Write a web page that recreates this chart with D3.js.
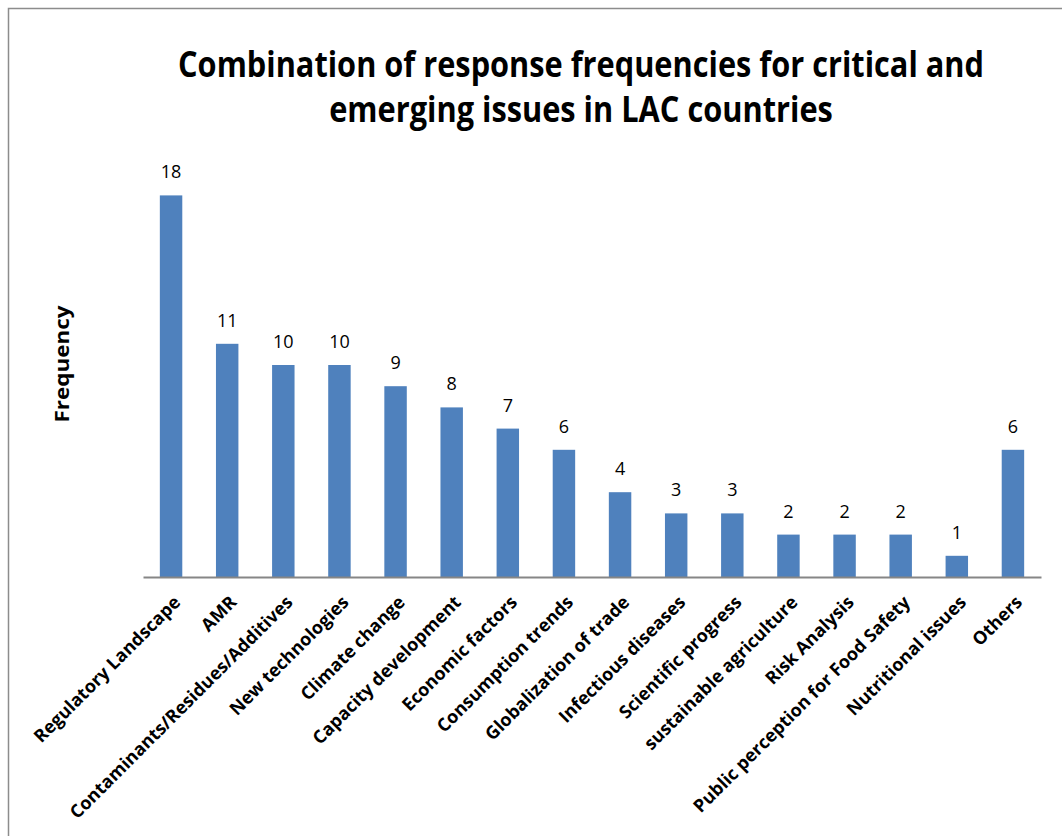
<!DOCTYPE html>
<html>
<head>
<meta charset="utf-8">
<script src="https://cdn.jsdelivr.net/npm/d3@7"></script>
<style>
  body { margin: 0; background: #fff; }
  text { font-family: "Open Sans", sans-serif; fill: #000; }
</style>
</head>
<body>
<div id="chart"></div>
<script>
// data
var categories = ["Regulatory Landscape", "AMR", "Contaminants/Residues/Additives", "New technologies",
  "Climate change", "Capacity development", "Economic factors", "Consumption trends",
  "Globalization of trade", "Infectious diseases", "Scientific progress", "sustainable agriculture",
  "Risk Analysis", "Public perception for Food Safety", "Nutritional issues", "Others"];
var frequency = [18, 11, 10, 10, 9, 8, 7, 6, 4, 3, 3, 2, 2, 2, 1, 6];
var titleLines = ["Combination of response frequencies for critical and", "emerging issues in LAC countries"];

var width = 1062, height = 836;
var margin = {left: 143, right: 21, top: 153, bottom: 259};

var svg = d3.select("#chart").append("svg")
    .attr("width", width)
    .attr("height", height);

// outer frame
svg.append("rect")
    .attr("x", 8.5).attr("y", 8.5)
    .attr("width", width + 20).attr("height", height + 20)
    .attr("fill", "none")
    .attr("stroke", "#8c8c8c")
    .attr("stroke-width", 1.5);

var x = d3.scaleBand()
    .domain(categories)
    .range([margin.left, width - margin.right])
    .paddingInner(0.6)
    .paddingOuter(0.3);

var y = d3.scaleLinear()
    .domain([0, 20])
    .range([height - margin.bottom, margin.top]);

// title, squeezed horizontally to look like the narrow original font
svg.append("g").selectAll("text")
    .data(titleLines)
    .enter().append("text")
    .attr("text-anchor", "middle")
    .attr("font-size", 36)
    .attr("font-weight", "bold")
    .text(function(d) { return d; })
    .attr("transform", function(d, i) {
      var w = this.getComputedTextLength();
      var k = (i == 0 ? 806 : 504) / w;
      return "translate(581," + (77 + i * 45) + ") scale(" + k + ",1)";
    });

// y label
svg.append("text")
    .attr("text-anchor", "middle")
    .attr("font-size", 20)
    .attr("font-weight", "bold")
    .text("Frequency")
    .attr("transform", function() {
      var k = 117 / this.getComputedTextLength();
      return "translate(69,364) rotate(-90) scale(" + k + ",1)";
    });

svg.append("g").selectAll("rect")
    .data(frequency)
    .enter().append("rect")
    .attr("x", function(d, i) { return x(categories[i]); })
    .attr("y", function(d) { return y(d); })
    .attr("width", x.bandwidth())
    .attr("height", function(d) { return y(0) - y(d); })
    .attr("fill", "#4f81bd");

svg.append("g").selectAll("text")
    .data(frequency)
    .enter().append("text")
    .attr("x", function(d, i) { return x(categories[i]) + x.bandwidth() / 2; })
    .attr("y", function(d) { return y(d) - 17; })
    .attr("text-anchor", "middle")
    .attr("font-size", 18)
    .text(function(d) { return d; });

// x axis
var xAxis = svg.append("g")
    .attr("transform", "translate(0," + y(0) + ")")
    .call(d3.axisBottom(x).tickSize(0).tickPadding(0));
xAxis.select(".domain").attr("stroke", "#868686").attr("stroke-width", 2);
xAxis.selectAll("text")
    .attr("font-family", "Open Sans, sans-serif")
    .attr("font-size", 18)
    .attr("font-weight", "bold")
    .attr("fill", "#000")
    .attr("text-anchor", "end")
    .attr("transform", "translate(6,22) rotate(-45)")
    .attr("dy", "0.35em")
    .attr("y", 0);
</script>
</body>
</html>
